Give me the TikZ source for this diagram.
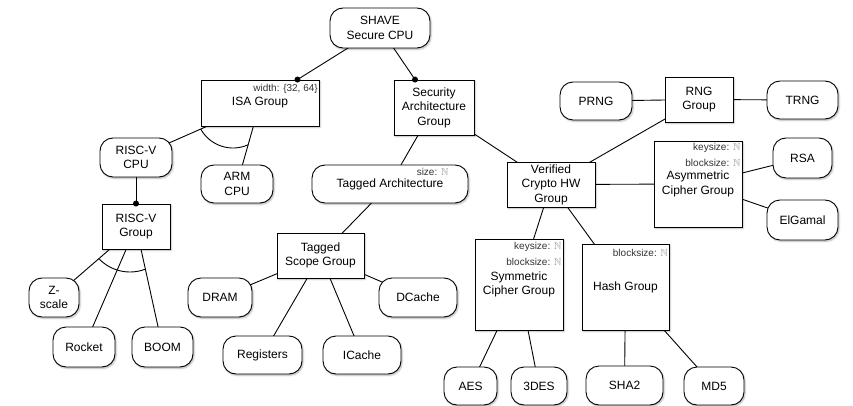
\documentclass[tikz,border=0pt]{standalone}
\usepackage{fontspec}
\setmainfont{Liberation Sans}
\usepackage{amssymb}
\usetikzlibrary{calc,backgrounds,shadows.blur}

\definecolor{natgray}{HTML}{8C8C8C}
\definecolor{taggray}{HTML}{333333}
\newcommand{\natset}{\textcolor{natgray}{$\mathbb{N}$}}

\tikzset{
  base/.style={draw=black, line width=0.9pt, fill=white, inner sep=0pt,
    align=center, font=\fontsize{12}{14.5}\selectfont, text=black,
    blur shadow={shadow xshift=1.2pt, shadow yshift=-1.5pt,
      shadow blur radius=1.6pt, shadow opacity=28}},
  grp/.style={base, rectangle},
  feat/.style={base, rounded corners=13pt},
  sz/.style 2 args={minimum width=#1pt, minimum height=#2pt},
  tag/.style={font=\fontsize{10}{12}\selectfont, text=taggray, inner sep=0pt, anchor=east},
  edge/.style={draw=black, line width=0.9pt},
  alt/.style={draw=black, line width=0.9pt},
  mand/.style={circle, fill=black, inner sep=0pt, minimum size=6pt},
}

\begin{document}
\begin{tikzpicture}[x=1pt, y=-1pt]
\useasboundingbox (0,0) rectangle (853,406);

% root and top-level groups
\node[feat, sz={100}{40}] (shave) at (380,28) {SHAVE\\Secure CPU};
\node[grp, sz={118}{46}] (isa) at (260,103) {ISA Group};
\node[grp, sz={80}{55}] (sec) at (434,107.5) {Security\\Architecture\\Group};

% ISA branch
\node[feat, sz={72}{39}] (rvcpu) at (136,157.5) {RISC-V\\CPU};
\node[feat, sz={72}{38}] (arm) at (237,184) {ARM\\CPU};
\node[grp, sz={68}{45}] (rvgrp) at (136,226.5) {RISC-V\\Group};
\node[feat, sz={50}{39}] (zscale) at (54,297.5) {Z-\\scale};
\node[feat, sz={62}{40}] (rocket) at (84,347) {Rocket};
\node[feat, sz={61}{40}] (boom) at (162.5,347) {BOOM};

% tagged architecture branch
\node[feat, sz={156}{38}] (tarch) at (390,184) {Tagged Architecture};
\node[grp, sz={87}{45}] (tsg) at (320.5,255.5) {Tagged\\Scope Group};
\node[feat, sz={64}{39}] (dram) at (220,297.5) {DRAM};
\node[feat, sz={78}{39}] (dcache) at (418,297.5) {DCache};
\node[feat, sz={79}{38}] (regs) at (262.5,355) {Registers};
\node[feat, sz={78}{38}] (icache) at (362,355) {ICache};

% crypto branch
\node[grp, sz={88}{45}] (vcrypto) at (551,184.5) {Verified\\Crypto HW\\Group};
\node[grp, sz={68}{45}] (rng) at (699,99.5) {RNG\\Group};
\node[feat, sz={72}{38}] (prng) at (596,101) {PRNG};
\node[feat, sz={71}{38}] (trng) at (802.5,100) {TRNG};
\node[grp, sz={88}{86}] (asym) at (698,184) {Asymmetric\\Cipher Group};
\node[feat, sz={59}{40}] (rsa) at (802.5,158) {RSA};
\node[feat, sz={71}{40}] (elgamal) at (802.5,220) {ElGamal};
\node[grp, sz={88}{91}] (sym) at (519,284.5) {Symmetric\\Cipher Group};
\node[grp, sz={87}{86}] (hash) at (625.5,287) {Hash Group};
\node[feat, sz={53}{38}] (aes) at (470.5,386) {AES};
\node[feat, sz={56}{38}] (tdes) at (539,386) {3DES};
\node[feat, sz={77}{39}] (sha2) at (624.5,385.5) {SHA2};
\node[feat, sz={60}{38}] (md5) at (714,386) {MD5};

% attribute tags
\node[tag] (isaw) at ($(isa.north east)+(-1.5,9)$) {width: \{32, 64\}};
\node[tag] (tasz) at ($(tarch.north east)+(-20,7)$) {size: \natset};
\node[tag] (symk) at ($(sym.north east)+(-2,8)$) {keysize: \natset};
\node[tag] (symb) at ($(sym.north east)+(-2,23)$) {blocksize: \natset};
\node[tag] (hashb) at ($(hash.north east)+(-1.5,9)$) {blocksize: \natset};
\node[tag] (asymk) at ($(asym.north east)+(-2,7)$) {keysize: \natset};
\node[tag] (asymb) at ($(asym.north east)+(-2,22)$) {blocksize: \natset};

% connectors
\begin{scope}[on background layer]
  \foreach \a/\b in {shave/isa, shave/sec, isa/rvcpu, isa/arm, rvcpu/rvgrp,
      rvgrp/zscale, rvgrp/rocket, rvgrp/boom, sec/tarch, sec/vcrypto,
      tarch/tsg, tsg/dram, tsg/regs, tsg/icache, tsg/dcache,
      vcrypto/rng, rng/prng, rng/trng, vcrypto/asym, asym/rsa, asym/elgamal,
      vcrypto/sym, vcrypto/hash, sym/aes, sym/tdes, hash/sha2, hash/md5}
    \draw[edge] (\a.center) -- (\b.center);
\end{scope}

% mandatory markers
\path (shave) -- (isa) node[mand, pos=1] (m1) {};
\path (shave) -- (sec) node[mand, pos=1] (m2) {};
\path (rvcpu) -- (rvgrp) node[mand, pos=1] (m3) {};

% alternative-group arcs
\draw[alt] (233,111) ++(150.7:37) arc[start angle=150.7, end angle=65.9, radius=37];
\draw[alt] (130,229) ++(136.3:43) arc[start angle=136.3, end angle=69, radius=43];
\end{tikzpicture}
\end{document}
